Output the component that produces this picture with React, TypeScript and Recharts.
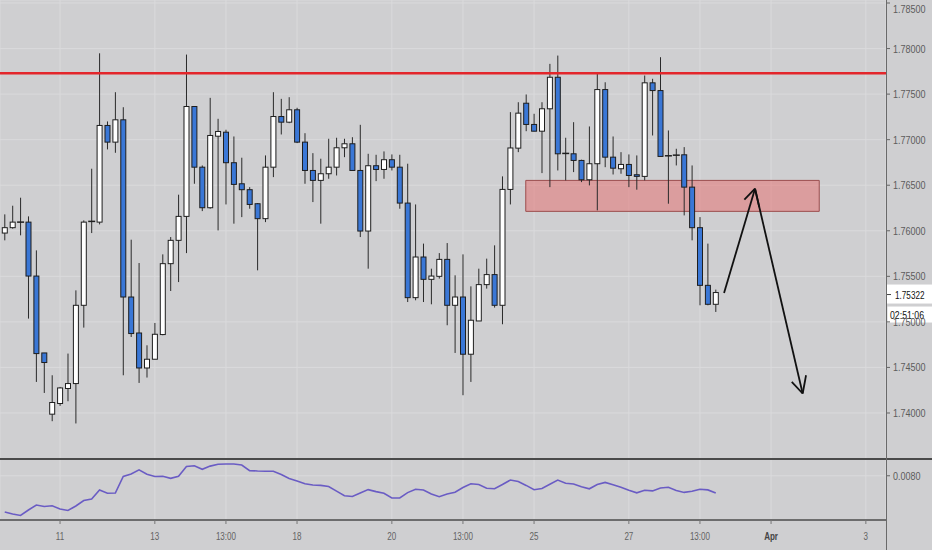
import React from 'react';
import {
  ComposedChart,
  Bar,
  Line,
  XAxis,
  YAxis,
  CartesianGrid,
  ReferenceLine,
  ReferenceArea,
} from 'recharts';

// 4h candles
const opens = [
  1.75975, 1.76034, 1.76089, 1.76095, 1.75503, 1.74659, 1.73987, 1.74104, 1.74269, 1.74323,
  1.75182, 1.76095, 1.76095, 1.77156, 1.76973, 1.77218, 1.75273, 1.74878, 1.74494, 1.7459,
  1.74861, 1.75639, 1.75895, 1.76158, 1.77364, 1.76698, 1.76253, 1.77038, 1.77082, 1.76747,
  1.76516, 1.76451, 1.76297, 1.76133, 1.76698, 1.77254, 1.77192, 1.77328, 1.76973, 1.76662,
  1.76553, 1.76626, 1.76698, 1.76911, 1.76955, 1.76662, 1.75997, 1.76714, 1.76673, 1.7678,
  1.76698, 1.76304, 1.75266, 1.75712, 1.75467, 1.755, 1.75686, 1.75182, 1.75273, 1.74645,
  1.7501, 1.75409, 1.75519, 1.75182, 1.76454, 1.76907, 1.774, 1.77167, 1.77093, 1.77339,
  1.77685, 1.76849, 1.76845, 1.76772, 1.7656, 1.76736, 1.7755, 1.76808, 1.76681, 1.76728,
  1.76615, 1.76597, 1.77624, 1.77539, 1.76823, 1.76827, 1.76834, 1.76479, 1.76034, 1.75401,
  1.75193,
];
const highs = [
  1.7618, 1.76275, 1.76363, 1.76158, 1.75785, 1.74659, 1.74414, 1.74286, 1.74652, 1.75346,
  1.76114, 1.76681, 1.77948, 1.772, 1.77521, 1.77356, 1.75902, 1.75646, 1.74743, 1.74988,
  1.75741, 1.75931, 1.76396, 1.77934, 1.77364, 1.76717, 1.77459, 1.77229, 1.77109, 1.77035,
  1.76802, 1.76479, 1.76304, 1.76827, 1.77521, 1.77448, 1.77466, 1.7735, 1.77071, 1.76852,
  1.76791, 1.7701, 1.77021, 1.7701, 1.77027, 1.77163, 1.76845, 1.76834, 1.76871, 1.76838,
  1.76834, 1.76736, 1.76289, 1.75859, 1.75584, 1.75755, 1.75865, 1.75511, 1.75741, 1.7539,
  1.75584, 1.75694, 1.7584, 1.76597, 1.77302, 1.77411, 1.77496, 1.77284, 1.77411, 1.77832,
  1.77923, 1.77021, 1.77192, 1.7678, 1.77145, 1.7774, 1.7763, 1.77035, 1.76863, 1.76838,
  1.76827, 1.77704, 1.77668, 1.77905, 1.77101, 1.769, 1.76918, 1.76717, 1.7615, 1.75859,
  1.75354,
];
const lows = [
  1.75895, 1.76023, 1.7595, 1.75036, 1.74341, 1.7422, 1.7391, 1.74078, 1.74129, 1.73885,
  1.74937, 1.75975, 1.7607, 1.76893, 1.76856, 1.74414, 1.74834, 1.7433, 1.74389, 1.7459,
  1.74853, 1.75339, 1.75437, 1.75755, 1.76516, 1.76216, 1.76242, 1.76004, 1.76289, 1.76078,
  1.7615, 1.76242, 1.75566, 1.76095, 1.76589, 1.77057, 1.77181, 1.76962, 1.76516, 1.76315,
  1.76078, 1.76571, 1.76607, 1.76808, 1.76662, 1.75931, 1.75584, 1.76545, 1.76571, 1.76662,
  1.76242, 1.75218, 1.75237, 1.75218, 1.75193, 1.75475, 1.74963, 1.74659, 1.74195, 1.74341,
  1.7501, 1.75365, 1.75157, 1.74974, 1.76289, 1.76863, 1.77093, 1.77093, 1.76633, 1.76479,
  1.76662, 1.76553, 1.76644, 1.76534, 1.76498, 1.76224, 1.76698, 1.76618, 1.76626, 1.76479,
  1.76451, 1.76553, 1.77046, 1.76816, 1.76297, 1.76717, 1.76169, 1.75895, 1.75182, 1.75182,
  1.75109,
];
const closes = [
  1.76034, 1.76095, 1.76095, 1.75503, 1.74652, 1.74554, 1.74115, 1.74275, 1.74323, 1.75182,
  1.76095, 1.76103, 1.77156, 1.76973, 1.77218, 1.75273, 1.74872, 1.74494, 1.7459, 1.74864,
  1.75639, 1.75895, 1.76158, 1.77364, 1.76698, 1.76253, 1.77046, 1.7709, 1.76747, 1.76509,
  1.76451, 1.76289, 1.76133, 1.76698, 1.77254, 1.77192, 1.77328, 1.76973, 1.76662, 1.76553,
  1.76626, 1.76698, 1.76911, 1.76955, 1.76662, 1.75997, 1.76714, 1.76673, 1.7678, 1.76698,
  1.76304, 1.75266, 1.75712, 1.75467, 1.75503, 1.75686, 1.75182, 1.75273, 1.74645, 1.75018,
  1.75409, 1.75519, 1.75182, 1.76454, 1.76909, 1.77291, 1.77167, 1.77093, 1.77339, 1.77685,
  1.76845, 1.76845, 1.76772, 1.7656, 1.76736, 1.7755, 1.76808, 1.76687, 1.76728, 1.76607,
  1.76597, 1.77624, 1.77539, 1.76816, 1.76819, 1.7683, 1.76479, 1.76034, 1.75401, 1.75193,
  1.75322,
];
// lower pane indicator
const atr = [
  0.005623, 0.005492, 0.005394, 0.005754, 0.006082, 0.005984, 0.00603, 0.00582, 0.005722, 0.006017,
  0.006378, 0.006476, 0.007066, 0.00685, 0.00687, 0.007952, 0.008116, 0.008392, 0.008103, 0.007952,
  0.007965, 0.007834, 0.007972, 0.008608, 0.00866, 0.008424, 0.008634, 0.008759, 0.008772, 0.008772,
  0.008706, 0.008339, 0.008313, 0.0083, 0.0083, 0.008083, 0.007821, 0.007657, 0.00748, 0.007394,
  0.007368, 0.007296, 0.006994, 0.006692, 0.00664, 0.00687, 0.007093, 0.006961, 0.00685, 0.006542,
  0.006542, 0.006896, 0.007112, 0.007066, 0.006804, 0.006627, 0.006804, 0.006916, 0.00723, 0.00748,
  0.007427, 0.007178, 0.007152, 0.007427, 0.007722, 0.007624, 0.007368, 0.007086, 0.007171, 0.007447,
  0.007722, 0.007512, 0.00746, 0.007276, 0.007145, 0.007427, 0.007565, 0.007414, 0.00725, 0.007053,
  0.006883, 0.007053, 0.007007, 0.007204, 0.007244, 0.00704, 0.006909, 0.006981, 0.007112, 0.007073,
  0.00687,
];

const priceTicks = [1.74, 1.745, 1.75, 1.755, 1.76, 1.765, 1.77, 1.775, 1.78, 1.785];
const atrTicks = [0.008];
const timeTicks = [7, 19, 28, 37, 49, 58, 67, 79, 88, 97, 109];
const timeLabels = ['11', '13', '13:00', '18', '20', '13:00', '25', '27', '13:00', 'Apr', '3'];

// drawings
const resistance = 1.77728;
const zoneX = [65.95, 103.1];
const zoneY = [1.76213, 1.76553];
const pathX = [91.05, 94.97, 101.0];
const pathY = [1.75317, 1.76462, 1.74214];
const headUpX = [93.62, 95.51];
const headUpY = [1.76341, 1.7626];
const headDownX = [99.62, 101.43];
const headDownY = [1.74341, 1.74414];
const lastPrice = 1.75322;
const countdown = '02:51:06';

const xDomain = [-0.6, 111.55];
const priceDomain = [1.73495, 1.78533];
const atrDomain = [0.0051, 0.0091];

const W = 932;
const AXIS_W = 46;
const FONT = "'Liberation Sans', Arial, sans-serif";
const BG = '#cfcfd1';
const GRID = '#dadadc';

const candles = opens.map((o, i) => ({
  i,
  o,
  h: highs[i],
  l: lows[i],
  c: closes[i],
  range: [lows[i], highs[i]],
  atr: atr[i],
}));

// the terminal uses a condensed face; squeeze a regular one horizontally
function Narrow({ x, y, size, fill, weight = 'normal', anchor = 'start', squeeze = 0.76, children }: any) {
  return (
    <text
      transform={`translate(${x},${y}) scale(${squeeze},1)`}
      x={0}
      y={0}
      dy="0.36em"
      textAnchor={anchor}
      fontSize={size}
      fontFamily={FONT}
      fontWeight={weight}
      fill={fill}
    >
      {children}
    </text>
  );
}

function Candle(props: any) {
  const { x, y, width, height, payload } = props;
  const cx = x + width / 2;
  const { o, h, l, c } = payload;
  const k = height / (h - l || 1e-9);
  const top = y + (h - Math.max(o, c)) * k;
  const bot = y + (h - Math.min(o, c)) * k;
  const up = c > o;
  const bodyH = bot - top;
  return (
    <g>
      <line x1={cx} x2={cx} y1={y} y2={y + height} stroke="#2a2a2a" strokeWidth={1} />
      {bodyH < 1.5 ? (
        <line x1={cx - 3.5} x2={cx + 3.5} y1={top} y2={top} stroke="#1e1e1e" strokeWidth={1.5} />
      ) : (
        <rect
          x={cx - 2.5}
          y={top}
          width={5}
          height={bodyH}
          fill={up ? '#ffffff' : '#3a77d6'}
          stroke="#1e1e1e"
          strokeWidth={1}
        />
      )}
    </g>
  );
}

function PriceTag(props: any) {
  const vb = props.viewBox || {};
  const left = vb.x + vb.width;
  const y = vb.y;
  return (
    <g>
      <rect x={left + 1} y={y - 8} width={AXIS_W - 1} height={19} fill="#ffffff" />
      <line x1={left + 1} x2={left + 5} y1={y + 2} y2={y + 2} stroke="#444" />
      <Narrow x={left + 9} y={y + 2.5} size={11.5} fill="#111" squeeze={0.71}>
        {lastPrice.toFixed(5)}
      </Narrow>
      <rect x={left + 1.5} y={y + 14} width={AXIS_W - 1.5} height={16} fill="#ffffff" />
      <Narrow x={left + 4} y={y + 22} size={11.5} fill="#111" squeeze={0.76}>
        {countdown}
      </Narrow>
    </g>
  );
}

function PriceTick(props: any) {
  const { x, y, payload, digits } = props;
  return (
    <Narrow x={x + 1} y={y} size={11} fill="#5c5c5c" squeeze={0.82}>
      {payload.value.toFixed(digits)}
    </Narrow>
  );
}

function TimeTick(props: any) {
  const { x, y, payload } = props;
  const idx = timeTicks.indexOf(payload.value);
  const label = timeLabels[idx] ?? '';
  const strong = label === 'Apr';
  return (
    <Narrow
      x={x}
      y={y + 10}
      size={11.5}
      anchor="middle"
      squeeze={0.7}
      weight={strong ? 'bold' : 'normal'}
      fill={strong ? '#444' : '#636363'}
    >
      {label}
    </Narrow>
  );
}

export default function App() {
  return (
    <div style={{ position: 'relative', width: W, height: 550, background: BG, overflow: 'hidden' }}>
      <style>{'body{margin:0}'}</style>
      <div style={{ position: 'absolute', left: 0, top: 0 }}>
        <ComposedChart width={W} height={459} data={candles} margin={{ top: 0, right: 0, bottom: 0, left: 0 }}>
          <CartesianGrid stroke={GRID} strokeWidth={1} />
          <XAxis dataKey="i" type="number" domain={xDomain} ticks={timeTicks} hide allowDataOverflow />
          <YAxis
            orientation="right"
            width={AXIS_W}
            domain={priceDomain}
            ticks={priceTicks}
            allowDataOverflow
            axisLine={false}
            tickSize={4}
            tickLine={{ stroke: '#666' }}
            tick={<PriceTick digits={5} />}
          />
          <ReferenceArea
            x1={zoneX[0]}
            x2={zoneX[1]}
            y1={zoneY[0]}
            y2={zoneY[1]}
            fill="#e8605f"
            fillOpacity={0.45}
            stroke="#9c4e4e"
            strokeWidth={1}
          />
          <Bar dataKey="range" barSize={6} shape={<Candle />} isAnimationActive={false} />
          <ReferenceLine y={resistance} stroke="#e3262b" strokeWidth={2.5} />
          <ReferenceLine
            segment={[{ x: pathX[0], y: pathY[0] }, { x: pathX[1], y: pathY[1] }]}
            stroke="#111"
            strokeWidth={1.8}
          />
          <ReferenceLine
            segment={[{ x: pathX[1], y: pathY[1] }, { x: pathX[2], y: pathY[2] }]}
            stroke="#111"
            strokeWidth={1.8}
          />
          <ReferenceLine
            segment={[{ x: headUpX[0], y: headUpY[0] }, { x: pathX[1], y: pathY[1] }]}
            stroke="#111"
            strokeWidth={1.8}
          />
          <ReferenceLine
            segment={[{ x: headUpX[1], y: headUpY[1] }, { x: pathX[1], y: pathY[1] }]}
            stroke="#111"
            strokeWidth={1.8}
          />
          <ReferenceLine
            segment={[{ x: headDownX[0], y: headDownY[0] }, { x: pathX[2], y: pathY[2] }]}
            stroke="#111"
            strokeWidth={1.8}
          />
          <ReferenceLine
            segment={[{ x: headDownX[1], y: headDownY[1] }, { x: pathX[2], y: pathY[2] }]}
            stroke="#111"
            strokeWidth={1.8}
          />
          <ReferenceLine y={lastPrice} stroke="none" label={<PriceTag />} />
        </ComposedChart>
      </div>
      <div style={{ position: 'absolute', left: 0, top: 459 }}>
        <ComposedChart width={W} height={91} data={candles} margin={{ top: 0, right: 0, bottom: 0, left: 0 }}>
          <CartesianGrid stroke={GRID} strokeWidth={1} />
          <XAxis
            dataKey="i"
            type="number"
            domain={xDomain}
            ticks={timeTicks}
            height={30}
            allowDataOverflow
            axisLine={{ stroke: '#4a4a4a', strokeWidth: 1.5 }}
            tickSize={4}
            tickLine={{ stroke: '#777' }}
            tick={<TimeTick />}
          />
          <YAxis
            orientation="right"
            width={AXIS_W}
            domain={atrDomain}
            ticks={atrTicks}
            allowDataOverflow
            axisLine={false}
            tickSize={4}
            tickLine={{ stroke: '#666' }}
            tick={<PriceTick digits={4} />}
          />
          <Line
            dataKey="atr"
            type="linear"
            stroke="#6a5cc4"
            strokeWidth={1.6}
            dot={false}
            isAnimationActive={false}
          />
        </ComposedChart>
      </div>
      <div style={{ position: 'absolute', left: 0, top: 458, width: W, height: 1.5, background: '#4a4a4a' }} />
      <div style={{ position: 'absolute', left: W - AXIS_W, top: 0, width: 1, height: 550, background: '#6a6a6a' }} />
    </div>
  );
}
